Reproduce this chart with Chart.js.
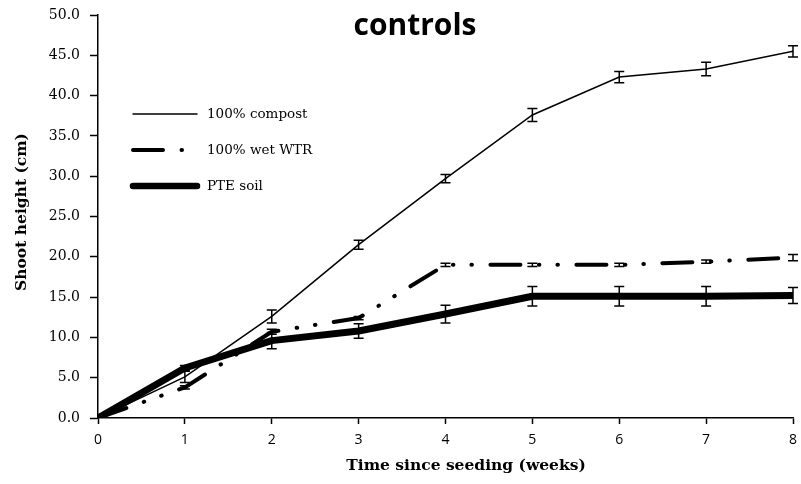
<!DOCTYPE html>
<html>
<head>
<meta charset="utf-8">
<script src="https://cdn.jsdelivr.net/npm/chart.js@4"></script>
<style>
  html, body { margin: 0; padding: 0; background: #fff; }
  #wrap { width: 801px; height: 484px; }
</style>
</head>
<body>
<div id="wrap"><canvas id="chart" width="801" height="484"></canvas></div>
<script>
// data
const weeks = [0, 1, 2, 3, 4, 5, 6, 7, 8];
const compost = [0, 5.1, 12.6, 21.5, 29.7, 37.6, 42.3, 43.3, 45.5];
const compostErr = [0, 0.7, 0.8, 0.55, 0.5, 0.8, 0.7, 0.85, 0.7];
const wetWTR = [0, 3.8, 10.7, 12.4, 19.0, 19.0, 19.0, 19.4, 19.9];
const wetWTRErr = [0, 0.2, 0.3, 0.2, 0.2, 0.2, 0.2, 0.2, 0.4];
const pteSoil = [0, 6.2, 9.6, 10.8, 12.9, 15.1, 15.1, 15.1, 15.2];
const pteSoilErr = [0, 0.3, 1.0, 0.9, 1.1, 1.2, 1.2, 1.2, 1.0];
const seriesNames = ["100% compost", "100% wet WTR", "PTE soil"];

const toPoints = (vals) => weeks.map((w, i) => ({ x: w, y: vals[i] }));

const serif = "'DejaVu Serif', serif";
const dashDot = [30, 18.5, 0.5, 18, 0.5, 18.5];

// error bars, title, legend and axis titles
const extras = {
  id: "extras",
  afterDatasetsDraw(chart) {
    const { ctx, scales } = chart;
    const errs = [compostErr, wetWTRErr, pteSoilErr];
    ctx.save();
    ctx.strokeStyle = "#000";
    ctx.lineWidth = 1.5;
    chart.data.datasets.forEach((ds, d) => {
      ds.data.forEach((p, i) => {
        const e = errs[d][i];
        if (!e) return;
        const x = scales.x.getPixelForValue(p.x);
        const y1 = scales.y.getPixelForValue(p.y + e);
        const y2 = scales.y.getPixelForValue(p.y - e);
        ctx.beginPath();
        ctx.moveTo(x, y1); ctx.lineTo(x, y2);
        ctx.moveTo(x - 5, y1); ctx.lineTo(x + 5, y1);
        ctx.moveTo(x - 5, y2); ctx.lineTo(x + 5, y2);
        ctx.stroke();
      });
    });
    ctx.restore();
  },
  afterDraw(chart) {
    const { ctx } = chart;
    ctx.save();
    ctx.fillStyle = "#000";

    // title
    ctx.font = "bold 30px 'Open Sans', sans-serif";
    ctx.textAlign = "center";
    ctx.textBaseline = "alphabetic";
    ctx.fillText("controls", 415, 35);

    // axis titles
    ctx.font = "bold 15.5px " + serif;
    ctx.textBaseline = "middle";
    ctx.fillText("Time since seeding (weeks)", 466, 466);
    ctx.save();
    ctx.translate(22, 212);
    ctx.rotate(-Math.PI / 2);
    ctx.fillText("Shoot height (cm)", 0, 0);
    ctx.restore();

    // legend
    const rows = [
      { y: 114, w: 1.5, dash: [] },
      { y: 150, w: 4, dash: dashDot },
      { y: 186, w: 6.5, dash: [] },
    ];
    ctx.strokeStyle = "#000";
    ctx.lineCap = "round";
    rows.forEach((r, i) => {
      ctx.lineWidth = r.w;
      ctx.setLineDash(r.dash);
      ctx.beginPath();
      ctx.moveTo(133, r.y);
      ctx.lineTo(197, r.y);
      ctx.stroke();
      ctx.setLineDash([]);
      ctx.font = "13.5px " + serif;
      ctx.textAlign = "left";
      ctx.fillText(seriesNames[i], 207, r.y);
    });
    ctx.restore();
  },
};

new Chart(document.getElementById("chart"), {
  type: "line",
  data: {
    datasets: [
      {
        label: seriesNames[0],
        data: toPoints(compost),
        borderColor: "#000",
        borderWidth: 1.5,
        pointRadius: 0,
        tension: 0,
      },
      {
        label: seriesNames[1],
        data: toPoints(wetWTR),
        borderColor: "#000",
        borderWidth: 4,
        borderDash: dashDot,
        borderCapStyle: "round",
        pointRadius: 0,
        tension: 0,
      },
      {
        label: seriesNames[2],
        data: toPoints(pteSoil),
        borderColor: "#000",
        borderWidth: 7,
        borderCapStyle: "round",
        borderJoinStyle: "round",
        pointRadius: 0,
        tension: 0,
      },
    ],
  },
  options: {
    responsive: false,
    animation: false,
    layout: { padding: { left: 0, right: 8, top: 15, bottom: 0 } },
    plugins: {
      legend: { display: false },
      tooltip: { enabled: false },
    },
    scales: {
      x: {
        type: "linear",
        min: 0,
        max: 8,
        afterFit: (s) => {
          s.height = 66;
          s.paddingLeft = 0;
          s.paddingRight = 0;
        },
        ticks: {
          stepSize: 1,
          color: "#000",
          padding: 8,
          font: { family: "'Open Sans', sans-serif", size: 14 },
        },
        grid: { drawOnChartArea: false, tickLength: 6, tickColor: "#000", tickWidth: 1.5 },
        border: { color: "#000", width: 1.5 },
      },
      y: {
        min: 0,
        max: 50,
        afterFit: (s) => {
          s.width = 98;
          s.paddingTop = 0;
          s.paddingBottom = 0;
        },
        ticks: {
          stepSize: 5,
          color: "#000",
          padding: 10,
          callback: (v) => v.toFixed(1),
          font: { family: serif, size: 14 },
        },
        grid: { drawOnChartArea: false, tickLength: 8, tickColor: "#000", tickWidth: 1.5 },
        border: { color: "#000", width: 1.5 },
      },
    },
  },
  plugins: [extras],
});
</script>
</body>
</html>
